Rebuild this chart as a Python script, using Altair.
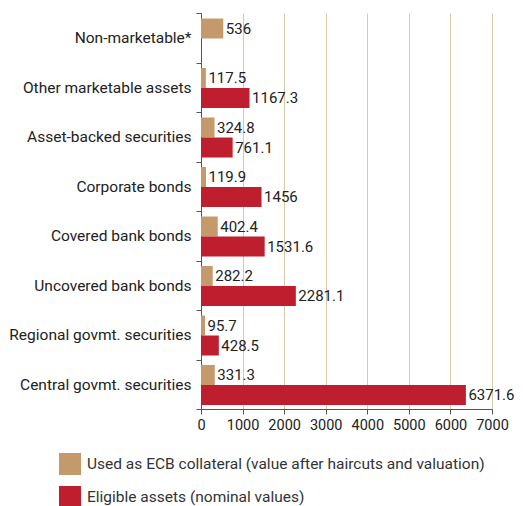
import altair as alt
import pandas as pd

categories = [
    "Non-marketable*",
    "Other marketable assets",
    "Asset-backed securities",
    "Corporate bonds",
    "Covered bank bonds",
    "Uncovered bank bonds",
    "Regional govmt. securities",
    "Central govmt. securities",
]
used_collateral = [536, 117.5, 324.8, 119.9, 402.4, 282.2, 95.7, 331.3]
eligible_assets = [None, 1167.3, 761.1, 1456, 1531.6, 2281.1, 428.5, 6371.6]
series_names = [
    "Used as ECB collateral (value after haircuts and valuation)",
    "Eligible assets (nominal values)",
]
series_colors = ["#C49A6C", "#BE1E2D"]
x_ticks = [0, 1000, 2000, 3000, 4000, 5000, 6000, 7000]

rows = []
for cat, u, e in zip(categories, used_collateral, eligible_assets):
    rows.append({"category": cat, "series": series_names[0], "value": u, "label": f"{u:g}"})
    if e is not None:
        rows.append({"category": cat, "series": series_names[1], "value": e, "label": f"{e:g}"})
df = pd.DataFrame(rows)

FONT = "Roboto"
FS = 15.5

y_enc = alt.Y(
    "category:N",
    sort=categories,
    title=None,
    scale=alt.Scale(paddingInner=0, paddingOuter=0),
    axis=alt.Axis(
        tickBand="extent",
        domainColor="#555555",
        tickColor="#555555",
        tickSize=5,
        labelFontSize=FS,
        labelColor="#222222",
        labelPadding=5,
        labelLimit=300,
        grid=False,
    ),
)
y_off = alt.YOffset(
    "series:N",
    sort=series_names,
    scale=alt.Scale(paddingInner=0, paddingOuter=0.2375, align=0.58),
)
x_enc = alt.X(
    "value:Q",
    title=None,
    scale=alt.Scale(domain=[0, 7000], nice=False),
    axis=alt.Axis(
        values=x_ticks,
        format="d",
        gridColor="#D8C9AB",
        gridWidth=1,
        domainColor="#555555",
        tickColor="#555555",
        tickSize=5,
        labelFontSize=14.5,
        labelColor="#222222",
        labelPadding=4,
        labelOverlap=False,
        labelFlush=False,
    ),
)

base = alt.Chart(df)

bars = base.mark_bar(size=20).encode(
    y=y_enc,
    yOffset=y_off,
    x=x_enc,
    color=alt.Color(
        "series:N",
        sort=series_names,
        scale=alt.Scale(domain=series_names, range=series_colors),
        legend=alt.Legend(
            title=None,
            orient="none",
            legendX=-142,
            legendY=440,
            direction="vertical",
            symbolType="square",
            symbolSize=484,
            symbolStrokeWidth=0,
            symbolOpacity=1,
            labelFontSize=FS,
            labelColor="#333333",
            rowPadding=11,
            padding=0,
            labelOffset=6,
            labelLimit=500,
        ),
    ),
)

labels = base.mark_text(align="left", baseline="middle", dx=2.5, fontSize=15, color="#222222", font=FONT).encode(
    y=alt.Y("category:N", sort=categories),
    yOffset=alt.YOffset("series:N", sort=series_names),
    x="value:Q",
    text="label:N",
)

chart = (
    alt.layer(bars, labels)
    .properties(
        width=291,
        height=396,
        padding={"left": 193, "top": 5, "right": 23, "bottom": 97},
        autosize=alt.AutoSizeParams(type="none"),
    )
    .configure(font=FONT)
    .configure_view(stroke=None)
    .configure_axis(labelFont=FONT)
    .configure_legend(labelFont=FONT)
)

chart.save("out.html", embed_options={"renderer": "svg", "actions": False})
